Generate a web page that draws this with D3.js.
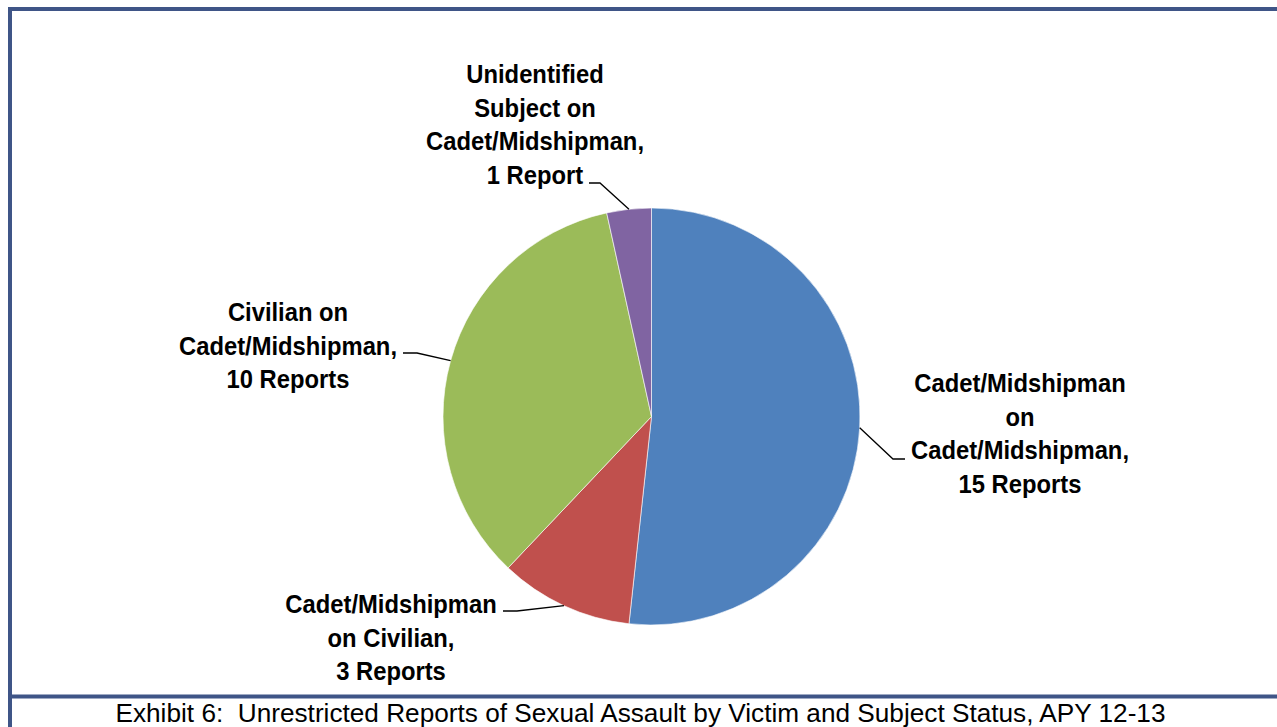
<!DOCTYPE html>
<html>
<head>
<meta charset="utf-8">
<script src="https://cdn.jsdelivr.net/npm/d3@7"></script>
<style>
  body { margin: 0; background: #fff; }
  .label { font-family: "Liberation Sans Narrow", "Arial Narrow", "Liberation Sans", sans-serif; font-weight: bold; font-size: 26px; fill: #000; }
  .caption { font-family: "Liberation Sans", Arial, sans-serif; font-size: 26.2px; fill: #000; white-space: pre; }
</style>
</head>
<body>
<svg id="chart" width="1277" height="727"></svg>
<script>
// ----------

const CATEGORIES = [
  "Cadet/Midshipman on Cadet/Midshipman",
  "Cadet/Midshipman on Civilian",
  "Civilian on Cadet/Midshipman",
  "Unidentified Subject on Cadet/Midshipman"
];
const REPORTS = [15, 3, 10, 1];
const LABEL_LINES = [
  ["Cadet/Midshipman", "on", "Cadet/Midshipman,", "15 Reports"],
  ["Cadet/Midshipman", "on Civilian,", "3 Reports"],
  ["Civilian on", "Cadet/Midshipman,", "10 Reports"],
  ["Unidentified", "Subject on", "Cadet/Midshipman,", "1 Report"]
];
const COLORS = ["#4F81BD", "#C0504D", "#9BBB59", "#8064A2"];
const CAPTION = "Exhibit 6:  Unrestricted Reports of Sexual Assault by Victim and Subject Status, APY 12-13";

const FRAME_COLOR = "#3F5587";
const LINE_HEIGHT = 33.7;
const NARROW = 0.915; // squeeze to mimic a narrow bold face

// label placement: centre x, first baseline y, leader line anchor (end of the horizontal tick)
const LABEL_POS = [
  { x: 1020, y: 392, lead: [[905, 459], [893, 459]] },
  { x: 391, y: 613, lead: [[503, 611], [517, 611]] },
  { x: 288, y: 321, lead: [[403, 353], [417, 353]] },
  { x: 535, y: 83, lead: [[589, 183], [600, 183]] }
];

// ----------

const svg = d3.select("#chart");
const width = 1277;

const cx = 651.5, cy = 416.5, radius = 208.5;

// frame
svg.append("line").attr("x1", 10).attr("y1", 9).attr("x2", width).attr("y2", 9)
  .attr("stroke", FRAME_COLOR).attr("stroke-width", 4);
svg.append("line").attr("x1", 10).attr("y1", 7).attr("x2", 10).attr("y2", 727)
  .attr("stroke", FRAME_COLOR).attr("stroke-width", 4);
svg.append("line").attr("x1", 8).attr("y1", 696.5).attr("x2", width).attr("y2", 696.5)
  .attr("stroke", FRAME_COLOR).attr("stroke-width", 4);

const pie = d3.pie().sort(null).value(d => d);
const arcs = pie(REPORTS);
const arc = d3.arc().innerRadius(0).outerRadius(radius);

const g = svg.append("g").attr("transform", `translate(${cx},${cy})`);

g.selectAll("path")
  .data(arcs)
  .enter()
  .append("path")
  .attr("d", arc)
  .attr("fill", (d, i) => COLORS[i])
  .attr("stroke", "#fff")
  .attr("stroke-width", 0.6);

// leader lines: from the label tick to the slice edge at its mid angle
const edge = d3.arc().innerRadius(radius).outerRadius(radius);
arcs.forEach(function (d, i) {
  let p = edge.centroid(d);
  let pts = LABEL_POS[i].lead.concat([[cx + p[0], cy + p[1]]]);
  svg.append("path")
    .attr("d", d3.line()(pts))
    .attr("fill", "none")
    .attr("stroke", "#000")
    .attr("stroke-width", 1.3);
});

// labels
LABEL_LINES.forEach(function (lines, i) {
  let pos = LABEL_POS[i];
  let t = svg.append("g")
    .attr("transform", `translate(${pos.x},${pos.y}) scale(${NARROW},1)`)
    .append("text").attr("class", "label").attr("text-anchor", "middle");
  lines.forEach(function (s, j) {
    t.append("tspan").attr("x", 0).attr("y", j * LINE_HEIGHT).text(s);
  });
});

svg.append("text")
  .attr("class", "caption")
  .attr("x", 640.5)
  .attr("y", 722)
  .attr("text-anchor", "middle")
  .text(CAPTION);
</script>
</body>
</html>
